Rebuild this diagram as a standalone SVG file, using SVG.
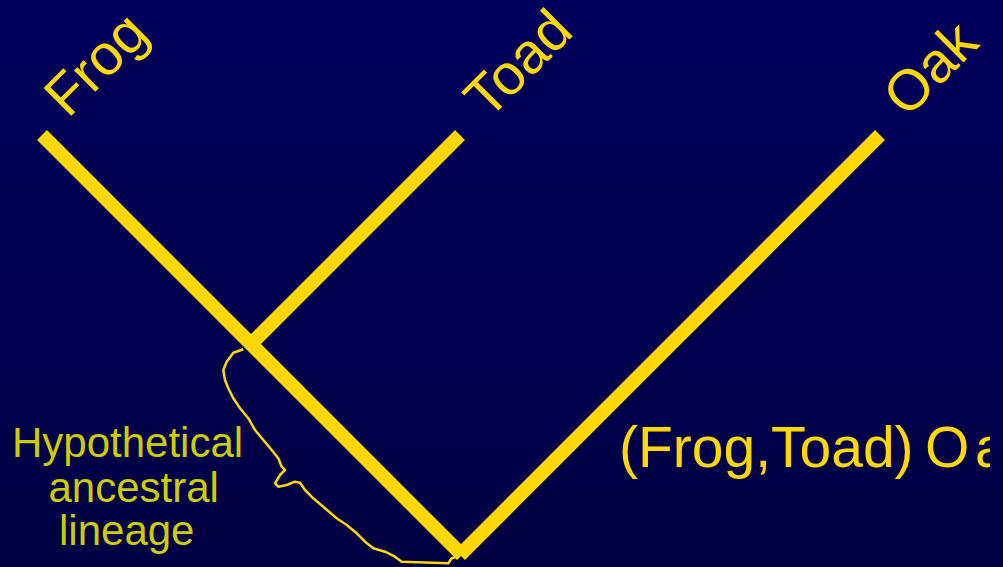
<svg xmlns="http://www.w3.org/2000/svg" width="1003" height="567" viewBox="0 0 1003 567">
<defs>
<linearGradient id="bg" x1="0" y1="0" x2="0" y2="1">
<stop offset="0" stop-color="#00005C"/>
<stop offset="1" stop-color="#000042"/>
</linearGradient>
<clipPath id="clipR"><rect x="0" y="0" width="990" height="567"/></clipPath>
</defs>
<style>
.branch{stroke:#FFD800;stroke-width:14;stroke-linecap:butt;fill:none}
.lbl{font-family:"Liberation Sans",Arial,sans-serif;font-size:57px;fill:#FFD800}
.note{font-family:"Liberation Sans",Arial,sans-serif;font-size:42px;fill:#CCCC00}
.brace{stroke:#FFD800;stroke-width:2.5;fill:none;stroke-linejoin:round}
</style>
<rect width="1003" height="567" fill="url(#bg)"/>
<g id="connectors">
<line class="branch" x1="42" y1="135" x2="462" y2="555"/>
<line class="branch" x1="880" y1="135" x2="460" y2="555"/>
<line class="branch" x1="460" y1="135" x2="249" y2="346"/>
<polyline class="brace" points="243.3,349.3 233.3,352.7 226.7,361.7 223.3,370 225,380 228.3,388.3 233.3,398.3 240,408.3 248.3,418.3 255,430 263.3,440 271.7,450 278.3,458.3 281.7,466.7 285,470 280,475 275,483.3 278.3,486.7 286.7,485 295,481.7 300,482.7 305,490 313.3,498.3 325,508.3 336.7,518.3 346.7,525 356.7,533.3 365,541.7 373.3,548.3 385,551.7 395,556.7 401.7,561.7 448.3,563.3 451.7,558.3 456.7,556.7"/>
</g>
<g id="frog"><text class="lbl" transform="translate(68,119) rotate(-45)">Frog</text></g>
<g id="toad"><text class="lbl" transform="translate(488,121) rotate(-45)">Toad</text></g>
<g id="oak"><text class="lbl" transform="translate(907,119) rotate(-45)">Oak</text></g>
<g id="newick"><text class="lbl" x="619" y="467" font-size="59" clip-path="url(#clipR)">(Frog,Toad)<tspan x="925">O</tspan><tspan x="975">a</tspan></text></g>
<g id="ancestral-note">
<text class="note" x="12" y="457">Hypothetical</text>
<text class="note" x="48.5" y="502">ancestral</text>
<text class="note" x="59" y="545">lineage</text>
</g>
</svg>
